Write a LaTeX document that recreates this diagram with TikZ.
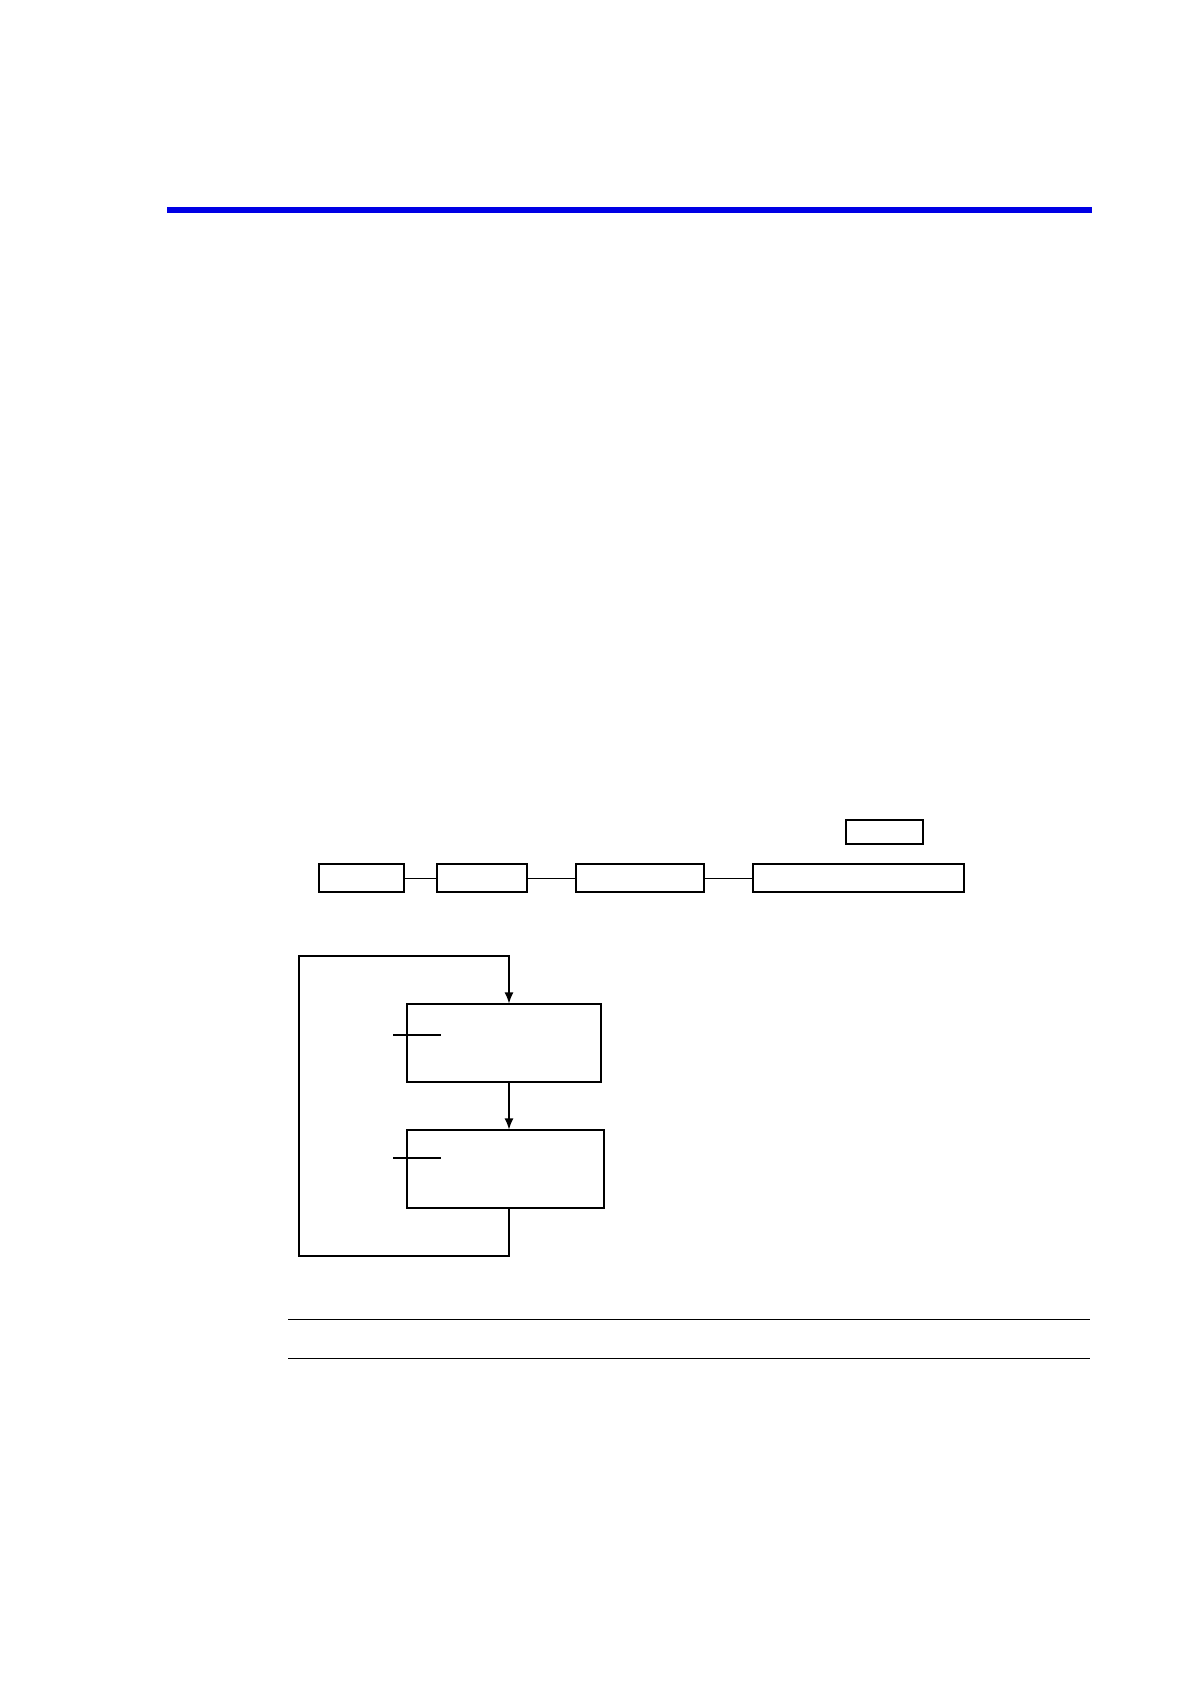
\documentclass[tikz,border=0pt]{standalone}
\usepackage{tikz}
\usetikzlibrary{arrows.meta}
\usepackage{xcolor}

\begin{document}
\begin{tikzpicture}[x=0.5pt,y=-0.5pt,
  rowbox/.style={draw, line width=1pt, inner sep=0pt, minimum height=14pt},
  stepbox/.style={draw, line width=0.6pt, inner sep=0pt, minimum height=39pt},
  link/.style={line width=0.5pt},
  flow/.style={line width=0.6pt, -{Latex[length=5.5pt,width=4.5pt]}}]
\useasboundingbox (0,0) rectangle (1190,1684);
\fill [blue!90!black] (167,207) rectangle (1092,213);
\node [rowbox, minimum width=38.5pt, minimum height=12pt] (sel) at (884.5,832) {};
\node [rowbox, minimum width=42.5pt] (a) at (361.5,878) {};
\node [rowbox, minimum width=45pt] (b) at (482,878) {};
\node [rowbox, minimum width=64pt] (c) at (640,878) {};
\node [rowbox, minimum width=105.5pt] (d) at (858.5,878) {};
\draw [link] (a) -- (b);
\draw [link] (b) -- (c);
\draw [link] (c) -- (d);
\node [stepbox, minimum width=97pt] (s1) at (504,1043) {};
\node [stepbox, minimum width=98.5pt] (s2) at (505.5,1169) {};
\coordinate (top) at (509,956);
\coordinate (bot) at (509,1256);
\draw [flow] (s2.south -| bot) -- (bot) -| (299,956) -- (top) -- (s1.north -| top);
\draw [flow] (s1.south -| top) -- (s2.north -| top);
\draw [link, line width=0.65pt] (393,1035) -- (441,1035);
\draw [link, line width=0.65pt] (393,1158) -- (441,1158);
\draw [link] (288,1319) -- (1090,1319);
\draw [link] (288,1358) -- (1090,1358);
\end{tikzpicture}
\end{document}
